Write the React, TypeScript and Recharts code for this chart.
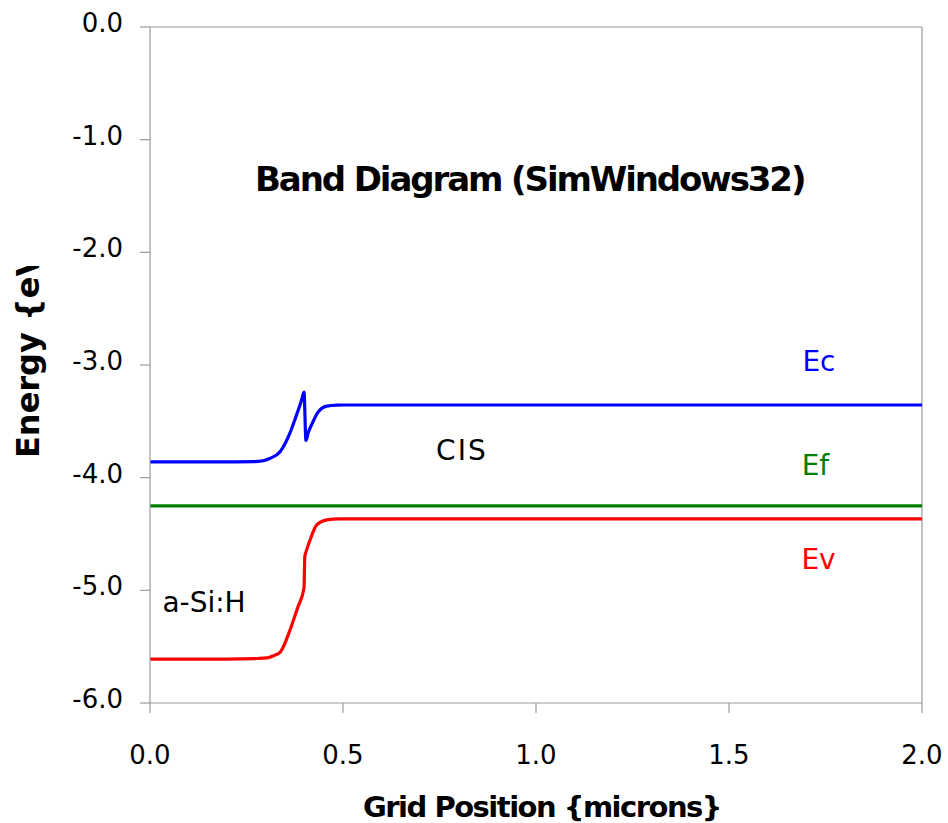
import React from "react";
import { LineChart, Line, XAxis, YAxis, ReferenceLine, ReferenceDot } from "recharts";

// Conduction band edge Ec (eV) vs grid position (microns)
const ecX = [0, 0.1, 0.2, 0.27, 0.293, 0.31, 0.337, 0.363, 0.38, 0.392, 0.399, 0.404, 0.41, 0.42, 0.435, 0.458, 0.484, 0.5, 1.0, 1.5, 2.0];
const ecY = [-3.86, -3.86, -3.86, -3.858, -3.85, -3.83, -3.77, -3.6, -3.44, -3.32, -3.24, -3.67, -3.6, -3.52, -3.42, -3.365, -3.356, -3.355, -3.355, -3.355, -3.355];

// Fermi level Ef
const efX = [0, 0.5, 1.0, 1.5, 2.0];
const efY = [-4.25, -4.25, -4.25, -4.25, -4.25];

// Valence band edge Ev
const evX = [0, 0.2, 0.28, 0.303, 0.32, 0.337, 0.363, 0.383, 0.399, 0.401, 0.405, 0.415, 0.432, 0.458, 0.49, 1.0, 1.5, 2.0];
const evY = [-5.61, -5.61, -5.605, -5.6, -5.58, -5.55, -5.35, -5.15, -4.98, -4.7, -4.65, -4.55, -4.42, -4.375, -4.366, -4.366, -4.366, -4.366];

const xTicks = [0, 0.5, 1.0, 1.5, 2.0];
const yTicks = [0, -1, -2, -3, -4, -5, -6];

const title = "Band Diagram (SimWindows32)";
const xLabel = "Grid Position {microns}";
const yLabel = "Energy {eV}";

const toPts = (xs: number[], ys: number[]) => xs.map((x, i) => ({ x, y: ys[i] }));
const ecData = toPts(ecX, ecY);
const efData = toPts(efX, efY);
const evData = toPts(evX, evY);

const FONT = "DejaVu Sans";
const GRAY = "#9a9a9a";

const YTick = (props: any) => {
  const { x, y, payload } = props;
  return (
    <text x={x} y={y + 5} textAnchor="end" fontFamily={FONT} fontSize={26} fill="#000">
      {Number(payload.value).toFixed(1)}
    </text>
  );
};

const XTick = (props: any) => {
  const { x, y, payload } = props;
  return (
    <text x={x} y={y + 51} textAnchor="middle" fontFamily={FONT} fontSize={26} fill="#000">
      {Number(payload.value).toFixed(1)}
    </text>
  );
};

const makeText = (text: string, color: string, opts: any = {}) => (props: any) => {
  const { cx, cy } = props;
  return (
    <text
      x={cx}
      y={cy}
      textAnchor={opts.anchor || "middle"}
      fontFamily={FONT}
      fontSize={opts.size || 28}
      fontWeight={opts.weight || "normal"}
      letterSpacing={opts.ls || 0}
      fill={color}
    >
      {text}
    </text>
  );
};

const YAxisTitle = () => (
  <g>
    <defs>
      <clipPath id="ylabClip">
        <rect x={0} y={266} width={150} height={557} />
      </clipPath>
    </defs>
    <g clipPath="url(#ylabClip)">
      <text
        x={39}
        y={458}
        transform="rotate(-90, 39, 458)"
        textAnchor="start"
        fontFamily={FONT}
        fontSize={32}
        fontWeight="bold"
        fill="#000"
      >
        {yLabel}
      </text>
    </g>
  </g>
);

const XAxisTitle = (props: any) => {
  const vb = props.viewBox || { x: 150, y: 703 };
  return (
    <text
      x={vb.x + 213}
      y={vb.y + 114}
      textAnchor="start"
      fontFamily={FONT}
      fontSize={29}
      fontWeight="bold"
      letterSpacing={-1.5}
      fill="#000"
    >
      {xLabel}
    </text>
  );
};

export default function App() {
  return (
    <div style={{ position: "absolute", left: 0, top: 0, width: 948, height: 823, background: "#fff" }}>
      <LineChart width={948} height={823} margin={{ top: 27, right: 26, left: 0, bottom: 0 }}>
        <XAxis
          type="number"
          dataKey="x"
          domain={[0, 2]}
          ticks={xTicks}
          height={120}
          tickSize={10}
          tickMargin={0}
          stroke={GRAY}
          tick={<XTick />}
          axisLine={{ stroke: GRAY, strokeWidth: 1.2 }}
          tickLine={{ stroke: GRAY, strokeWidth: 1.2 }}
          label={{ content: (p: any) => <XAxisTitle {...p} /> }}
          allowDataOverflow
        />
        <YAxis
          type="number"
          domain={[-6, 0]}
          ticks={yTicks}
          width={150}
          tickSize={10}
          tickMargin={17}
          stroke={GRAY}
          tick={<YTick />}
          axisLine={{ stroke: GRAY, strokeWidth: 1.2 }}
          tickLine={{ stroke: GRAY, strokeWidth: 1.2 }}
          label={{ content: () => <YAxisTitle /> }}
          allowDataOverflow
        />
        <ReferenceLine y={0} stroke={GRAY} strokeWidth={1.2} ifOverflow="extendDomain" />
        <ReferenceLine x={2} stroke={GRAY} strokeWidth={1.2} ifOverflow="extendDomain" />
        <Line data={ecData} dataKey="y" type="monotone" stroke="#0000ff" strokeWidth={3.2} dot={false} isAnimationActive={false} />
        <Line data={efData} dataKey="y" type="linear" stroke="#008000" strokeWidth={3.4} dot={false} isAnimationActive={false} />
        <Line data={evData} dataKey="y" type="monotone" stroke="#ff0000" strokeWidth={3.2} dot={false} isAnimationActive={false} />
        <ReferenceDot x={0.272} y={-1.456} r={0} shape={makeText(title, "#000", { anchor: "start", size: 34, weight: "bold", ls: -2.1 })} />
        <ReferenceDot x={0.808} y={-3.839} r={0} shape={makeText("CIS", "#000", { ls: 2 })} />
        <ReferenceDot x={0.14} y={-5.188} r={0} shape={makeText("a-Si:H", "#000")} />
        <ReferenceDot x={1.733} y={-3.049} r={0} shape={makeText("Ec", "#0000ff")} />
        <ReferenceDot x={1.724} y={-3.976} r={0} shape={makeText("Ef", "#008000")} />
        <ReferenceDot x={1.732} y={-4.811} r={0} shape={makeText("Ev", "#ff0000")} />
      </LineChart>
    </div>
  );
}
